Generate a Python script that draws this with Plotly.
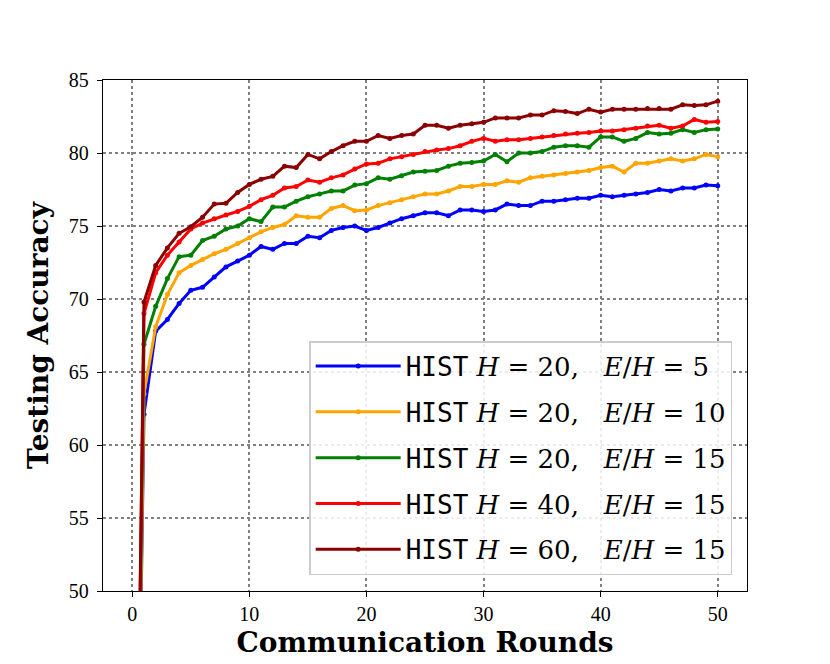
import plotly.graph_objects as go

rounds = list(range(0, 51))

acc_h20_e5 = [10, 62.1, 67.8, 68.6, 69.7, 70.6, 70.8, 71.5, 72.2, 72.6,
              73.0, 73.6, 73.4, 73.8, 73.8, 74.3, 74.2, 74.7, 74.9, 75.0,
              74.7, 74.9, 75.2, 75.5, 75.7, 75.9, 75.9, 75.7, 76.1, 76.1,
              76.0, 76.1, 76.5, 76.4, 76.4, 76.7, 76.7, 76.8, 76.9, 76.9,
              77.1, 77.0, 77.1, 77.2, 77.3, 77.5, 77.4, 77.6, 77.6, 77.8, 77.75]
acc_h20_e10 = [10, 63.5, 68.1, 70.3, 71.8, 72.3, 72.7, 73.1, 73.4, 73.8,
               74.2, 74.6, 74.9, 75.1, 75.7, 75.6, 75.6, 76.2, 76.4, 76.05,
               76.1, 76.4, 76.6, 76.8, 77.0, 77.2, 77.2, 77.4, 77.7, 77.7,
               77.85, 77.85, 78.1, 78.0, 78.3, 78.4, 78.5, 78.6, 78.7, 78.8,
               79.0, 79.1, 78.7, 79.3, 79.3, 79.45, 79.6, 79.45, 79.6, 79.9, 79.75]
acc_h20_e15 = [10, 66.9, 69.5, 71.4, 72.9, 73.0, 74.0, 74.3, 74.8, 75.0,
               75.5, 75.3, 76.3, 76.3, 76.7, 77.0, 77.2, 77.4, 77.4, 77.8,
               77.9, 78.3, 78.2, 78.45, 78.7, 78.75, 78.8, 79.1, 79.3, 79.35,
               79.45, 79.9, 79.4, 80.0, 80.0, 80.1, 80.4, 80.5, 80.5, 80.4,
               81.1, 81.1, 80.8, 81.0, 81.4, 81.3, 81.35, 81.6, 81.4, 81.6, 81.65]
acc_h40_e15 = [10, 69.0, 71.8, 73.0, 73.9, 74.8, 75.2, 75.5, 75.75, 76.0,
               76.35, 76.8, 77.1, 77.6, 77.7, 78.15, 78.0, 78.3, 78.5, 78.9,
               79.25, 79.3, 79.6, 79.75, 79.9, 80.1, 80.2, 80.3, 80.5, 80.8,
               81.0, 80.8, 80.9, 80.9, 81.0, 81.1, 81.2, 81.3, 81.35, 81.4,
               81.5, 81.5, 81.6, 81.7, 81.85, 81.9, 81.7, 81.85, 82.3, 82.1, 82.15]
acc_h60_e15 = [10, 69.8, 72.3, 73.5, 74.5, 74.95, 75.6, 76.5, 76.55, 77.3,
               77.85, 78.2, 78.4, 79.1, 79.0, 79.9, 79.6, 80.1, 80.5, 80.8,
               80.8, 81.2, 81.0, 81.2, 81.3, 81.9, 81.9, 81.7, 81.9, 82.0,
               82.1, 82.4, 82.4, 82.4, 82.6, 82.6, 82.9, 82.85, 82.7, 83.0,
               82.8, 83.0, 83.0, 83.0, 83.05, 83.05, 83.0, 83.3, 83.25, 83.3, 83.55]

h_values = ["20", "20", "20", "40", "60"]
eh_values = ["5", "10", "15", "15", "15"]
colors = ["#0000ff", "#ffa500", "#008000", "#ff0000", "#8b0000"]
series = [acc_h20_e5, acc_h20_e10, acc_h20_e15, acc_h40_e15, acc_h60_e15]

mono = "<span style='font-family:DejaVu Sans Mono'>HIST</span>"
sp = "&nbsp;"


def label(h, eh):
    return (mono + sp + "<i>H</i>" + sp + "=" + sp + h + "," + sp * 3
            + "<i>E</i>/<i>H</i>" + sp + "=" + sp + eh)


fig = go.Figure()
for i, (ys, h, eh, c) in enumerate(zip(series, h_values, eh_values, colors)):
    fig.add_trace(go.Scatter(
        x=rounds, y=ys, name=label(h, eh), mode="lines+markers",
        legendgroup=f"g{i}",
        line=dict(color=c, width=3), marker=dict(color=c, size=5),
    ))

serif = "DejaVu Serif, serif"
tickserif = "Liberation Serif, serif"
axis_common = dict(
    showline=True, linecolor="black", linewidth=1.3, mirror=True,
    ticks="outside", tickcolor="black", ticklen=5, tickwidth=1.3,
    showgrid=True, gridcolor="#808080", griddash="dot", gridwidth=1.5,
    zeroline=False, tickfont=dict(family=tickserif, size=20, color="black"),
)
fig.update_xaxes(range=[-2.5, 52.5], tickvals=[0, 10, 20, 30, 40, 50],
                 title=dict(text="<b>Communication Rounds</b>",
                            font=dict(family=serif, size=28, color="black"), standoff=8),
                 **axis_common)
fig.update_yaxes(range=[50, 85], tickvals=[50, 55, 60, 65, 70, 75, 80, 85],
                 ticklabelstandoff=4,
                 title=dict(text="<b>Testing Accuracy</b>",
                            font=dict(family=serif, size=28, color="black"), standoff=12),
                 **axis_common)

fig.update_layout(
    width=830, height=664,
    margin=dict(l=95, r=91, t=72, b=81, autoexpand=False),
    plot_bgcolor="white", paper_bgcolor="white",
    legend=dict(x=0.977, y=0.031, xanchor="right", yanchor="bottom",
                bgcolor="rgba(255,255,255,0.85)", bordercolor="#cccccc", borderwidth=1.5,
                font=dict(family=serif, size=26, color="black"),
                traceorder="grouped", tracegroupgap=9, itemwidth=85),
    showlegend=True,
)

fig.write_html("out.html")
